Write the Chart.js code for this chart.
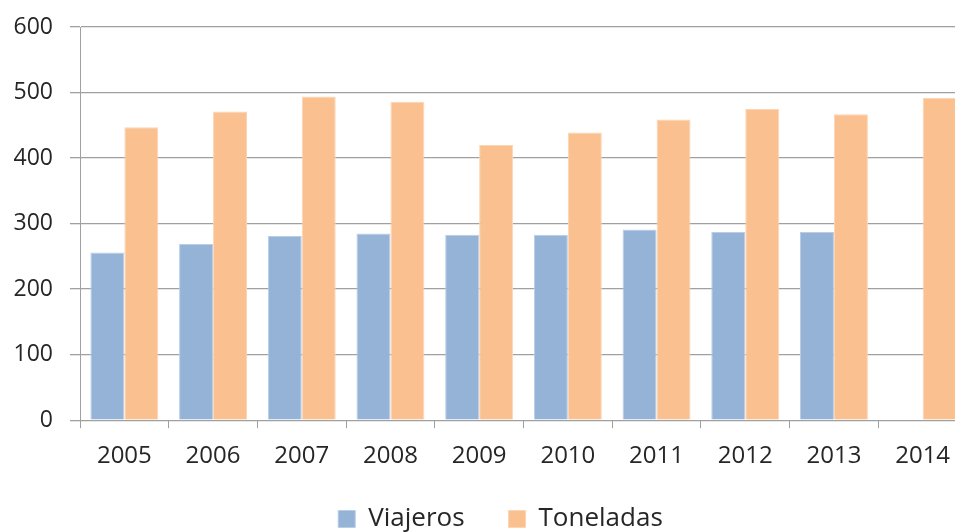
<!DOCTYPE html>
<html>
<head>
<meta charset="utf-8">
<script src="https://cdn.jsdelivr.net/npm/chart.js@4"></script>
<style>
  html, body { margin: 0; padding: 0; background: #fff; overflow: hidden; }
  #wrap { position: absolute; left: 0; top: 0; width: 1000px; height: 532px; }
</style>
</head>
<body>
<div id="wrap"><canvas id="chart"></canvas></div>
<script>
  // Data
  const years = ['2005', '2006', '2007', '2008', '2009', '2010', '2011', '2012', '2013', '2014'];
  const viajeros = [256, 269, 281, 285, 283, 283, 291, 287, 287, null];
  const toneladas = [447, 471, 494, 486, 420, 439, 459, 475, 467, 492];
  const yTicks = [0, 100, 200, 300, 400, 500, 600];

  const textColor = '#262626';
  const gridColor = '#a0a0a0';
  const family = '"Open Sans", Lato, sans-serif';

  // the legend sits a bit right of the canvas centre and higher than
  // chart.js would put it, so nudge it after layout
  const legendNudge = {
    id: 'legendNudge',
    afterLayout: function(chart) {
      const lg = chart.legend;
      if (!lg) return;
      lg.left += 17;
      lg.right += 17;
      lg.top -= 23;
    }
  };

  const ctx = document.getElementById('chart').getContext('2d');

  const chart = new Chart(ctx, {
    type: 'bar',
    data: {
      labels: years,
      datasets: [
        {
          label: 'Viajeros',
          data: viajeros,
          backgroundColor: '#95b3d7',
          borderColor: '#b9cde5',
          borderWidth: 1,
          barPercentage: 1,
          categoryPercentage: 0.766
        },
        {
          label: 'Toneladas',
          data: toneladas,
          backgroundColor: '#fac090',
          borderColor: '#fcd5b4',
          borderWidth: 1,
          barPercentage: 1,
          categoryPercentage: 0.766
        }
      ]
    },
    plugins: [legendNudge],
    options: {
      responsive: true,
      maintainAspectRatio: false,
      animation: false,
      layout: { padding: { top: 27, left: 0, right: 33, bottom: 0 } },
      plugins: {
        tooltip: { enabled: false },
        legend: {
          position: 'bottom',
          maxHeight: 47,
          labels: {
            color: textColor,
            font: { family: family, size: 26 },
            boxWidth: 17,
            boxHeight: 17,
            padding: 44
          }
        }
      },
      scales: {
        x: {
          offset: true,
          grid: {
            display: true,
            drawOnChartArea: false,
            drawTicks: true,
            tickLength: 8,
            color: gridColor,
            offset: true
          },
          border: { display: true, color: gridColor },
          ticks: { color: textColor, font: { family: family, size: 24 }, padding: 14, maxRotation: 0 }
        },
        y: {
          min: 0,
          max: 600,
          afterBuildTicks: function(scale) {
            scale.ticks = yTicks.map(function(v) { return { value: v }; });
          },
          afterFit: function(scale) {
            scale.width = 80;
            scale.paddingTop = 0;
          },
          grid: {
            color: gridColor,
            lineWidth: 1.3,
            drawTicks: true,
            tickLength: 10
          },
          border: { display: true, color: gridColor },
          ticks: { color: textColor, font: { family: family, size: 23 }, padding: 17 }
        }
      }
    }
  });
</script>
</body>
</html>
